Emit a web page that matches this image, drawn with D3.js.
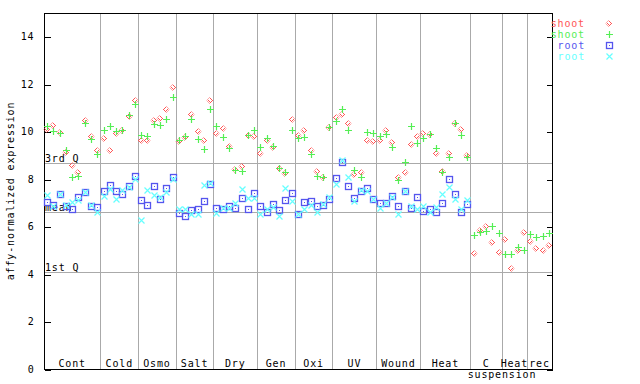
<!DOCTYPE html>
<html><head><meta charset="utf-8">
<script src="https://cdn.jsdelivr.net/npm/d3@7"></script>
<style>body{margin:0;background:#fff}text{font-family:"DejaVu Sans Mono",monospace;font-size:10px;letter-spacing:0.85px}</style>
</head><body><svg id="c" width="640" height="384"></svg>
<script>
const groupNames = ["Cont","Cold","Osmo","Salt","Dry","Gen","Oxi","UV","Wound","Heat","C","Heat","rec"];
const groupSizes = [9,6,6,6,7,6,6,7,7,8,5,4,4];
const shootRep1 = [10.11,10.29,9.98,9.14,8.60,8.31,10.49,9.81,9.23,
  9.73,9.23,9.95,10.07,10.67,11.33,
  9.66,9.64,10.51,10.57,10.96,11.89,
  9.60,9.77,10.74,10.02,9.64,11.33,
  9.94,10.15,9.39,8.42,8.55,9.85,9.81,
  9.10,9.64,9.35,8.46,8.25,10.53,
  9.85,10.07,9.22,8.34,8.11,10.19,
  10.63,10.74,10.36,8.21,8.31,9.64,9.60,
  9.64,10.07,9.56,8.08,8.29,9.48,9.81,
  9.94,9.90,9.10,8.34,9.10,10.36,10.11,9.01,
  4.88,5.86,6.03,5.34,4.92,
  5.47,4.25,5.01,5.76,
  5.38,5.09,5.01,5.22];
const shootRep2 = [10.25,10.02,9.94,9.21,8.08,8.13,10.37,9.71,9.07,
  10.07,10.23,10.01,10.07,10.72,11.17,
  9.84,9.81,10.33,10.28,10.54,11.47,
  9.66,9.80,10.53,9.69,9.26,10.95,
  10.23,9.77,9.31,8.38,8.34,9.85,10.07,
  9.35,9.73,9.39,8.46,8.29,10.07,
  9.73,9.77,9.05,8.13,8.08,10.19,
  10.44,10.95,10.07,8.39,8.11,9.98,9.94,
  9.81,9.90,9.35,7.96,8.72,10.23,9.52,
  9.73,9.90,9.31,8.28,8.93,10.36,9.85,8.93,
  5.64,5.76,5.81,6.02,5.74,
  4.84,4.84,5.13,5.01,
  5.68,5.55,5.60,5.72];
const rootRep1 = [7.03,6.93,7.38,6.86,6.73,7.24,7.46,6.86,6.82,
  7.49,7.75,7.49,7.39,7.69,8.13,
  7.11,6.90,7.70,7.17,7.62,8.08,
  6.57,6.44,6.69,6.73,7.07,7.80,
  6.78,6.75,6.86,6.79,7.20,6.73,7.41,
  6.86,6.61,6.94,6.69,7.11,7.41,
  6.51,7.03,7.07,6.86,6.92,7.17,
  8.04,8.74,7.70,7.20,7.51,7.62,7.17,
  6.99,6.99,7.27,6.86,7.49,6.78,7.24,
  6.65,6.73,6.61,6.99,8.00,7.37,6.61,6.94,
  null,null,null,null,null,null,null,null,null,null,null,null,null];
const rootRep2 = [7.32,6.87,7.39,6.89,7.04,7.10,7.46,6.90,6.61,
  7.30,7.58,7.17,7.55,7.67,8.02,
  6.27,7.53,7.32,7.24,7.46,8.00,
  6.73,6.73,6.52,6.52,7.75,7.82,
  6.57,6.78,6.78,6.99,7.58,7.20,7.20,
  6.52,6.73,6.82,6.44,7.62,7.07,
  6.52,6.73,6.90,6.61,6.94,7.24,
  7.79,8.81,8.07,7.06,7.55,7.51,7.17,
  6.78,6.99,7.24,6.52,7.49,6.86,6.73,
  6.86,6.61,6.82,7.37,7.66,7.16,6.73,7.10,
  null,null,null,null,null,null,null,null,null,null,null,null,null];
const yTicks = [0,2,4,6,8,10,12,14];
const refNames = ["3rd Q","mean","1st Q"];
const refValues = [8.67,6.61,4.08];
const seriesNames = ["shoot","shoot","root","root"];
const yTitle = "affy-normalized expression";

const colors = ["#ff5555","#55ee55","#5555ee","#66ffff"];
const svg = d3.select("#c");
const L=44, R=552, T=13, B=369;
const n = d3.sum(groupSizes);
const x = d3.scaleBand().domain(d3.range(n)).range([L,R]);
const y = d3.scaleLinear().domain([0,15]).range([B,T]);
const cx = i => Math.round(x(i)+x.bandwidth()/2)+0.5;
const cy = v => Math.round(y(v))+0.5;

const defs = svg.append("defs");
const pat = defs.append("pattern").attr("id","chk").attr("width",2).attr("height",2).attr("patternUnits","userSpaceOnUse");
pat.append("rect").attr("x",0).attr("y",0).attr("width",1).attr("height",1).attr("fill",colors[0]);
pat.append("rect").attr("x",1).attr("y",1).attr("width",1).attr("height",1).attr("fill",colors[0]);

let acc=0; const bounds=[0];
groupSizes.forEach(s=>{acc+=s;bounds.push(acc);});
const sepX = i => Math.round(x(0)+i*x.step())+0.5;
svg.append("g").selectAll("line").data(bounds.slice(1,-1)).join("line")
  .attr("x1",sepX).attr("x2",sepX).attr("y1",T).attr("y2",B)
  .attr("stroke","#aaaaaa").attr("shape-rendering","crispEdges");
svg.append("g").selectAll("line").data(refValues).join("line")
  .attr("x1",L).attr("x2",R).attr("y1",cy).attr("y2",cy)
  .attr("stroke","#aaaaaa").attr("shape-rendering","crispEdges");
svg.append("g").selectAll("text").data(refValues).join("text")
  .attr("x",L+1).attr("y",v=>cy(v)-1.5).text((v,i)=>refNames[i]);

svg.append("rect").attr("x",L+0.5).attr("y",T+0.5).attr("width",R-L).attr("height",B-T)
  .attr("fill","none").attr("stroke","#000").attr("shape-rendering","crispEdges");
const yl = svg.append("g").attr("transform",`translate(${L+0.5},0)`)
  .call(d3.axisLeft(y).tickValues(yTicks).tickSizeInner(-6).tickSizeOuter(0).tickPadding(10).tickFormat(d3.format("d")));
yl.select(".domain").remove();
yl.selectAll("line").attr("transform","translate(0,0.5)").attr("shape-rendering","crispEdges");
yl.selectAll("text").attr("font-family",null).attr("font-size",null);
const yr = svg.append("g").attr("transform",`translate(${R+0.5},0)`)
  .call(d3.axisRight(y).tickValues(yTicks).tickSizeInner(-6).tickSizeOuter(0).tickFormat(""));
yr.select(".domain").remove();
yr.selectAll("line").attr("transform","translate(0,0.5)").attr("shape-rendering","crispEdges");

svg.append("text").attr("transform","translate(14,191) rotate(-90)").attr("text-anchor","middle").text(yTitle);

svg.append("g").selectAll("text").data(groupNames).join("text")
  .attr("x",(d,i)=>x(0)+(bounds[i]+bounds[i+1])/2*x.step())
  .attr("y",367).attr("text-anchor","middle").text(d=>d);
svg.append("text").attr("x",502).attr("y",378).attr("text-anchor","middle").text("suspension");

function drawMarker(g, k, px, py){
  if(k===0){
    g.append("path").attr("d",`M${px-0.5},${py-3.5}L${px+3},${py}L${px-0.5},${py+3.5}L${px-4},${py}Z`)
      .attr("fill","url(#chk)");
    g.append("rect").attr("x",px-1.5).attr("y",py-1.5).attr("width",2).attr("height",2).attr("fill","#fff");
  } else if(k===1){
    g.append("path").attr("d",`M${px-3.5},${py}H${px+3.5}M${px},${py-3.5}V${py+3.5}`)
      .attr("stroke",colors[1]).attr("stroke-width",1.2).attr("fill","none");
  } else if(k===2){
    g.append("rect").attr("x",px-3).attr("y",py-3).attr("width",6).attr("height",6)
      .attr("fill","none").attr("stroke",colors[2]).attr("stroke-width",1.3);
    g.append("rect").attr("x",px-0.5).attr("y",py-0.5).attr("width",1).attr("height",1).attr("fill",colors[2]);
  } else {
    g.append("path").attr("d",`M${px-3},${py-3}L${px+3},${py+3}M${px-3},${py+3}L${px+3},${py-3}`)
      .attr("stroke",colors[3]).attr("stroke-width",1.2).attr("fill","none");
  }
}
const series = [shootRep1, shootRep2, rootRep1, rootRep2];
[2,3,0,1].forEach(k=>{
  const g = svg.append("g");
  series[k].forEach((v,i)=>{ if(v!=null) drawMarker(g,k,cx(i),cy(v)); });
});

const legY=[27,38,49,60];
seriesNames.forEach((nm,k)=>{
  svg.append("text").attr("x",585).attr("y",legY[k]).attr("text-anchor","end").attr("fill",colors[k]).text(nm);
  drawMarker(svg.append("g"),k,609.5,legY[k]-3.5);
});
</script></body></html>
